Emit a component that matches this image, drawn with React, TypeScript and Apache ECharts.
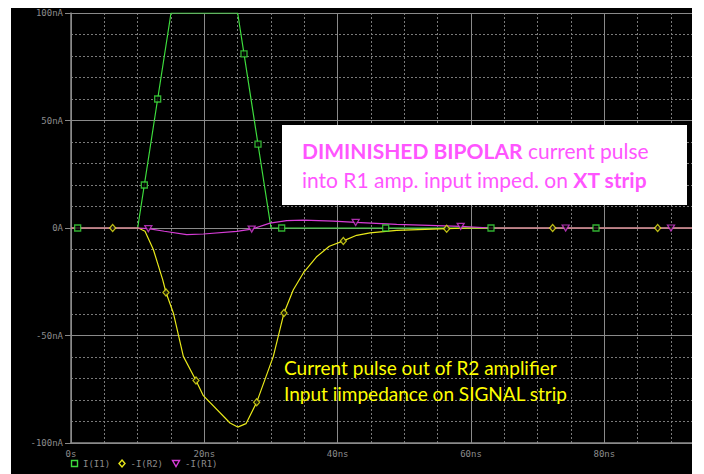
import React, { useEffect, useRef } from 'react';
import * as echarts from 'echarts';

// ---- data (time in ns, current in nA) ----
const i1Times = [0, 10, 15, 25, 30, 93.15];
const i1Values = [0, 0, 100, 100, 0, 0];
const i1MarkerTimes = [1.0, 11.0, 13.0, 25.95, 28.05, 31.6, 47.2, 63.0, 78.75];
const i1MarkerValues = [0, 20, 60, 81, 39, 0, 0, 0, 0];

const r2Times = [0, 10.1, 11.1, 12.35, 13.75, 14.25, 15.35, 16.85, 18.75, 19.85, 23.85, 25, 26.25, 27.85, 30.35, 31.95, 33.35, 34.85, 36.8, 38.75, 40.85, 42.85, 44.85, 48.85, 56.35, 60, 93.15];
const r2Values = [0, 0, -1.5, -10, -24, -30, -39.5, -59.7, -70.9, -78, -90.7, -92.6, -91, -81.1, -59.7, -39.5, -28.7, -20.9, -13.5, -8.5, -6, -3.4, -2.3, -1.1, -0.3, 0, 0];
const r2MarkerTimes = [6.25, 14.25, 18.75, 27.85, 31.95, 40.85, 56.35, 72.25, 88.0];
const r2MarkerValues = [0, -30, -70.9, -81.1, -39.5, -6, -0.3, 0, 0];

const r1Times = [0, 10, 11.6, 14, 17.35, 19.85, 24.85, 27.1, 29.85, 32.35, 34.85, 39.35, 42.7, 48.85, 58.45, 63, 93.15];
const r1Values = [0, 0, -0.3, -1.5, -3.1, -2.8, -1.6, -0.5, 2.3, 3.4, 3.7, 3.2, 2.6, 1.7, 0.8, 0, 0];
const r1MarkerTimes = [11.6, 27.1, 42.7, 58.45, 74.2, 90.0];
const r1MarkerValues = [-0.3, -0.5, 2.6, 0.8, 0, 0];

const xTickValues = [0, 20, 40, 60, 80];
const xTickLabels = ['0s', '20ns', '40ns', '60ns', '80ns'];
const yTickValues = [-100, -50, 0, 50, 100];
const yTickLabels = ['-100nA', '-50nA', '0A', '50nA', '100nA'];

const legendNames = ['I(I1)', '-I(R2)', '-I(R1)'];

const GREEN = '#3ddc3d';
const YELLOW = '#e8e81a';
const MAGENTA = '#d63cd6';
const GRID_SOLID = '#8a8a8a';
const GRID_DOT = '#7a7a7a';
const LABEL = '#8c8c8c';
const MONO = 'DejaVu Sans Mono';

const zip = (a: number[], b: number[]) => a.map((t, i) => [t, b[i]]);

export default function App() {
  const ref = useRef<HTMLDivElement>(null);
  useEffect(() => {
    if (!ref.current) return;
    const chart = echarts.init(ref.current, undefined, { renderer: 'svg' });
    const xFmt = (v: number) => {
      const i = xTickValues.indexOf(Math.round(v * 1000) / 1000);
      return i >= 0 ? xTickLabels[i] : '';
    };
    const yFmt = (v: number) => {
      const i = yTickValues.indexOf(Math.round(v * 1000) / 1000);
      return i >= 0 ? yTickLabels[i] : '';
    };
    const lineSeries = (name: string, t: number[], v: number[], color: string) => ({
      name,
      type: 'line',
      data: zip(t, v),
      showSymbol: false,
      symbol: 'none',
      lineStyle: { color, width: 1.2 },
      itemStyle: { color },
      z: 3,
    });
    const markerSeries = (name: string, t: number[], v: number[], color: string, symbol: string, size: number | number[], rotate = 0) => ({
      name,
      type: 'scatter',
      data: zip(t, v),
      symbol,
      symbolSize: size,
      symbolRotate: rotate,
      itemStyle: { color: '#000', borderColor: color, borderWidth: 1.3 },
      z: 4,
    });
    const richStyles = {
      b: { fontFamily: 'Lato', fontSize: 21, fontWeight: 'bold', fill: '#ff55ff', color: '#ff55ff' },
      r: { fontFamily: 'Lato', fontSize: 21, fill: '#ff55ff', color: '#ff55ff' },
    };
    const option: any = {
      animation: false,
      backgroundColor: '#000000',
      grid: { left: 71, right: 12, top: 13, bottom: 31, containLabel: false },
      xAxis: [
        {
          type: 'value', min: 0, max: 93.15, interval: 20, z: 2,
          axisLine: { show: true, onZero: false, lineStyle: { color: GRID_SOLID, width: 1.5 } },
          axisTick: { show: false },
          axisLabel: { formatter: xFmt, color: LABEL, fontFamily: MONO, fontSize: 9, margin: 6, showMaxLabel: false },
          splitLine: { show: true, lineStyle: { color: GRID_SOLID, width: 1 } },
        },
        {
          type: 'value', min: 0, max: 93.15, interval: 5, z: 1,
          axisLine: { show: false }, axisTick: { show: false }, axisLabel: { show: false },
          splitLine: { show: true, lineStyle: { color: GRID_DOT, width: 1, type: [2, 2] } },
        },
      ],
      yAxis: [
        {
          type: 'value', min: -100, max: 100, interval: 50, z: 2,
          axisLine: { show: true, onZero: false, lineStyle: { color: GRID_SOLID, width: 1.5 } },
          axisTick: { show: true, length: 6, lineStyle: { color: GRID_SOLID } },
          axisLabel: { formatter: yFmt, color: LABEL, fontFamily: MONO, fontSize: 9, margin: 8 },
          splitLine: { show: true, lineStyle: { color: GRID_SOLID, width: 1 } },
        },
        {
          type: 'value', min: -100, max: 100, interval: 10, z: 1,
          axisLine: { show: false }, axisTick: { show: false }, axisLabel: { show: false },
          splitLine: { show: true, lineStyle: { color: GRID_DOT, width: 1, type: [2, 2] } },
        },
      ],
      series: [
        lineSeries(legendNames[0], i1Times, i1Values, GREEN),
        lineSeries(legendNames[1], r2Times, r2Values, YELLOW),
        lineSeries(legendNames[2], r1Times, r1Values, MAGENTA),
        markerSeries(legendNames[0], i1MarkerTimes, i1MarkerValues, GREEN, 'rect', 6),
        markerSeries(legendNames[1], r2MarkerTimes, r2MarkerValues, YELLOW, 'diamond', [6, 7]),
        markerSeries(legendNames[2], r1MarkerTimes, r1MarkerValues, MAGENTA, 'triangle', [7, 6], 180),
      ],
      graphic: [
        // white page margins around the black plot frame
        { type: 'rect', z: 100, shape: { x: 0, y: 0, width: 11, height: 474 }, style: { fill: '#fff' } },
        { type: 'rect', z: 100, shape: { x: 0, y: 0, width: 704, height: 8 }, style: { fill: '#fff' } },
        { type: 'rect', z: 100, shape: { x: 692, y: 0, width: 12, height: 474 }, style: { fill: '#fff' } },
        // magenta annotation box
        { type: 'rect', z: 100, shape: { x: 282, y: 125, width: 405, height: 80 }, style: { fill: '#fff' } },
        {
          type: 'text', z: 101, x: 302, y: 150,
          style: { text: '{b|DIMINISHED BIPOLAR}{r| current pulse}', verticalAlign: 'middle', rich: richStyles },
        },
        {
          type: 'text', z: 101, x: 302, y: 179,
          style: { text: '{r|into R1 amp. input imped. on }{b|XT strip}', verticalAlign: 'middle', rich: richStyles },
        },
        // yellow annotation
        {
          type: 'text', z: 101, x: 284, y: 367.5,
          style: { text: 'Current pulse out of R2 amplifier', fill: '#ffff00', fontFamily: 'Lato', fontSize: 19, verticalAlign: 'middle' },
        },
        {
          type: 'text', z: 101, x: 284, y: 393.5,
          style: { text: 'Input iimpedance on SIGNAL strip', fill: '#ffff00', fontFamily: 'Lato', fontSize: 19, verticalAlign: 'middle' },
        },
        // legend
        { type: 'rect', z: 101, shape: { x: 71.5, y: 460.5, width: 6, height: 6 }, style: { fill: 'none', stroke: GREEN, lineWidth: 1.4 } },
        { type: 'text', z: 101, x: 83, y: 463.5, style: { text: legendNames[0], fill: LABEL, fontFamily: MONO, fontSize: 9, verticalAlign: 'middle' } },
        { type: 'polygon', z: 101, shape: { points: [[122, 460], [125, 463.5], [122, 467], [119, 463.5]] }, style: { fill: 'none', stroke: YELLOW, lineWidth: 1.4 } },
        { type: 'text', z: 101, x: 130.5, y: 463.5, style: { text: legendNames[1], fill: LABEL, fontFamily: MONO, fontSize: 9, verticalAlign: 'middle' } },
        { type: 'polygon', z: 101, shape: { points: [[172.5, 460.5], [179.5, 460.5], [176, 466.5]] }, style: { fill: 'none', stroke: MAGENTA, lineWidth: 1.4 } },
        { type: 'text', z: 101, x: 185, y: 463.5, style: { text: legendNames[2], fill: LABEL, fontFamily: MONO, fontSize: 9, verticalAlign: 'middle' } },
      ],
    };
    chart.setOption(option);
    return () => chart.dispose();
  }, []);
  return <div ref={ref} style={{ position: 'fixed', left: 0, top: 0, width: 704, height: 474 }} />;
}
